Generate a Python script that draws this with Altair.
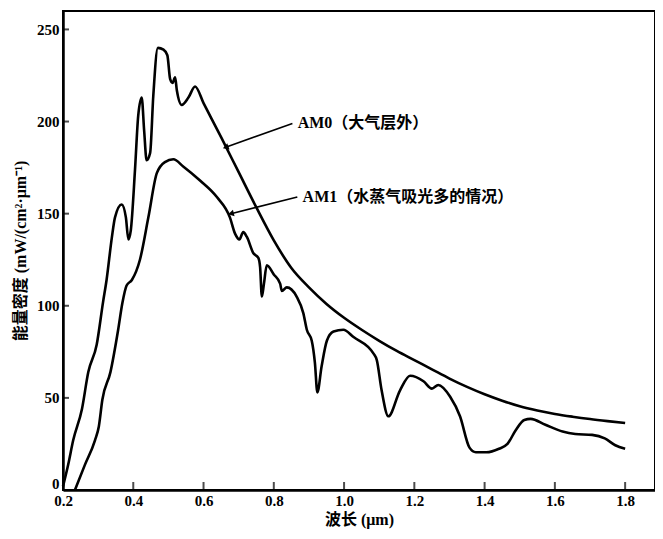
import altair as alt
import pandas as pd

# ---- data ----
am0_x = [0.200, 0.215, 0.229, 0.254, 0.272, 0.296, 0.314, 0.324, 0.339, 0.348, 0.367, 0.379, 0.386, 0.393,
         0.405, 0.414, 0.424, 0.431, 0.438, 0.448, 0.457, 0.470, 0.486, 0.497, 0.505, 0.512, 0.519, 0.524,
         0.538, 0.557, 0.576, 0.600, 0.650, 0.700, 0.750, 0.800, 0.850, 0.900, 0.950, 1.000, 1.050,
         1.100, 1.150, 1.200, 1.250, 1.300, 1.350, 1.400, 1.450, 1.500, 1.550, 1.600, 1.650, 1.700,
         1.750, 1.800]
am0_y = [2, 14, 27, 44, 64, 79, 102, 114, 137, 148, 155, 148, 136, 141,
         174, 203, 213, 195, 179, 183, 214, 240, 239, 236, 223, 221, 224, 217,
         209, 213, 219, 210, 191.5, 172.5, 153.5, 135.5, 120.5, 110, 101, 93.5, 87,
         81, 75.5, 70.5, 65.5, 60.5, 56, 52, 48.5, 45.5, 43.2, 41.3, 39.8, 38.5,
         37.4, 36.4]

am1_x = [0.234, 0.262, 0.291, 0.302, 0.312, 0.335, 0.357, 0.369, 0.381, 0.396, 0.419, 0.443, 0.467, 0.490,
         0.514, 0.543, 0.590, 0.638, 0.675, 0.690, 0.702, 0.713, 0.723, 0.742, 0.756, 0.761, 0.766, 0.772,
         0.780, 0.800, 0.818, 0.823, 0.837, 0.865, 0.884, 0.894, 0.908, 0.917, 0.924, 0.936, 0.951, 0.970,
         0.998, 1.027, 1.084, 1.093, 1.107, 1.126, 1.159, 1.188, 1.226, 1.250, 1.268, 1.302, 1.330, 1.357,
         1.375, 1.405, 1.441, 1.465, 1.489, 1.513, 1.531, 1.573, 1.622, 1.658, 1.706, 1.742, 1.772, 1.800]
am1_y = [0, 13.5, 27, 34.5, 49, 64, 87, 101.5, 111, 114, 125, 148, 172, 178,
         179.5, 175.5, 168, 159, 148, 139, 136, 140, 137.5, 128.5, 126, 121, 105, 112,
         122, 117, 112, 108, 110, 105, 96, 87, 81, 69, 53, 67, 81, 86,
         87, 83, 74, 70.6, 54, 40, 54, 62, 59, 55, 57, 50.6, 40, 23,
         20.5, 20.5, 22.4, 25, 32.6, 38, 38.6, 35.4, 31.7, 30.4, 29.9, 28, 24.3, 22.4]

x_ticks = [0.2, 0.4, 0.6, 0.8, 1.0, 1.2, 1.4, 1.6, 1.8]
y_ticks = [0, 50, 100, 150, 200, 250]

labels = ["AM0（大气层外）", "AM1（水蒸气吸光多的情况）"]
label_x = [0.868, 0.882]
label_y = [199, 159]
arrow_x2 = [0.663, 0.678]
arrow_y2 = [186, 150]
arrow_angle = [160, 166]

# ---- tables ----
df0 = pd.DataFrame({"x": am0_x, "y": am0_y})
df1 = pd.DataFrame({"x": am1_x, "y": am1_y})
ann = pd.DataFrame({"label": labels, "x": label_x, "y": label_y,
                    "xs": [v - 0.015 for v in label_x], "x2": arrow_x2, "y2": arrow_y2,
                    "angle": arrow_angle})
xt = pd.DataFrame({"t": x_ticks[1:]})
yt = pd.DataFrame({"t": y_ticks[1:]})

W, H = 592, 479
xs = alt.Scale(domain=[0.2, 1.885], nice=False, zero=False)
ys = alt.Scale(domain=[0, 260], nice=False, zero=True)
FONT = "Liberation Serif, Noto Sans CJK SC"

x_axis = alt.Axis(values=x_ticks, format=".1f", title="波长 (μm)", ticks=False, grid=False,
                  labelPadding=3, titlePadding=3, labelFlush=False)
y_axis = alt.Axis(values=y_ticks, title="能量密度 (mW/(cm²·μm⁻¹)", ticks=False, grid=False,
                  labelPadding=4, titlePadding=8,
                  labelOffset={"condition": {"test": "datum.value === 0", "value": -7}, "value": 0})

line0 = alt.Chart(df0).mark_line(color="black", strokeWidth=2.6, interpolate="monotone").encode(
    x=alt.X("x:Q", scale=xs, axis=x_axis),
    y=alt.Y("y:Q", scale=ys, axis=y_axis),
)
line1 = alt.Chart(df1).mark_line(color="black", strokeWidth=2.6, interpolate="monotone").encode(
    x=alt.X("x:Q", scale=xs),
    y=alt.Y("y:Q", scale=ys),
)
arrows = alt.Chart(ann).mark_rule(color="black", strokeWidth=1.6).encode(
    x=alt.X("xs:Q", scale=xs), y=alt.Y("y:Q", scale=ys),
    x2="x2:Q", y2="y2:Q",
)
heads = alt.Chart(ann).mark_point(shape="triangle-right", filled=True, color="black",
                                  size=45, opacity=1).encode(
    x=alt.X("x2:Q", scale=xs), y=alt.Y("y2:Q", scale=ys),
    angle=alt.Angle("angle:Q", scale=None),
)
texts = alt.Chart(ann).mark_text(align="left", baseline="middle", font=FONT, fontSize=16,
                                 fontWeight="bold", color="black").encode(
    x=alt.X("x:Q", scale=xs), y=alt.Y("y:Q", scale=ys), text="label:N",
)
xticks = alt.Chart(xt).mark_tick(orient="vertical", size=8, thickness=2, color="black").encode(
    x=alt.X("t:Q", scale=xs), y=alt.value(H - 4),
)
yticks = alt.Chart(yt).mark_tick(orient="horizontal", size=6, thickness=2, color="black").encode(
    y=alt.Y("t:Q", scale=ys), x=alt.value(3),
)

chart = alt.layer(line0, line1, arrows, heads, texts, xticks, yticks).properties(
    width=W, height=H,
    padding={"left": 55, "top": 3, "right": 0, "bottom": 41},
    autosize=alt.AutoSizeParams(type="none"),
    background="white",
).configure_view(
    stroke="black", strokeWidth=2,
).configure_axis(
    domainColor="black", domainWidth=2.5,
    labelFont=FONT, labelFontSize=15, labelFontWeight="bold", labelColor="black",
    titleFont=FONT, titleFontSize=16, titleFontWeight="bold", titleColor="black",
)

chart.save("out.html", embed_options={"renderer": "svg", "actions": False})
